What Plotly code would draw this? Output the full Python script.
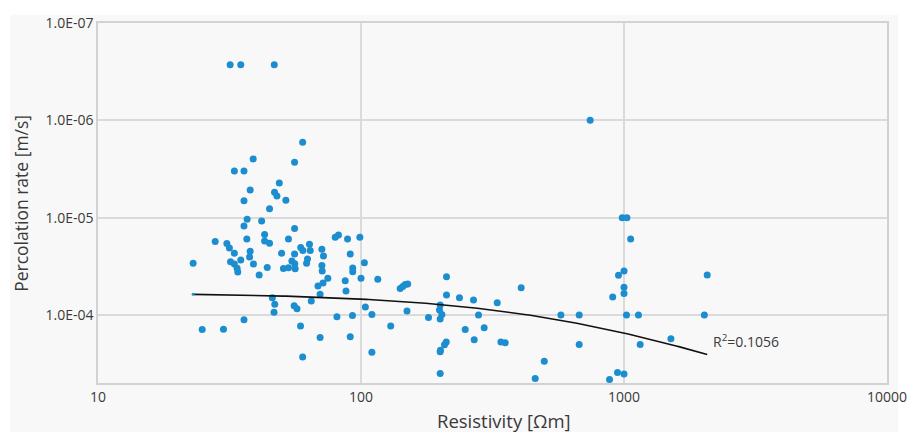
import numpy as np
import plotly.graph_objects as go

# Resistivity [Ωm] and percolation rate [m/s] for each measurement
RESISTIVITY = [
    31.8, 34.9, 46.8, 60.0, 38.9, 33.0, 35.9, 55.9, 48.9, 37.9,
    46.9, 47.9, 51.8, 35.9, 44.9, 36.9, 41.9, 35.9, 55.9, 43.0,
    27.9, 36.8, 43.0, 44.9, 53.0, 30.9, 31.6, 33.0, 37.9, 49.9,
    55.9, 59.0, 60.1, 63.7, 64.1, 37.7, 34.9, 31.9, 33.0, 39.0,
    23.0, 33.8, 34.0, 44.0, 41.0, 50.7, 53.0, 54.6, 56.0, 56.2,
    62.6, 62.1, 71.0, 72.0, 71.0, 71.2, 68.6, 71.7, 74.8, 79.8,
    82.1, 88.9, 99.0, 91.0, 93.0, 93.0, 103.0, 87.1, 100.0, 115.8,
    87.7, 69.9, 64.7, 55.7, 57.1, 46.0, 47.0, 46.7, 35.9, 24.9,
    30.0, 58.9, 69.9, 91.0, 60.0, 103.9, 81.0, 92.8, 110.0, 110.0,
    129.7, 140.9, 144.1, 147.2, 150.5, 149.6, 180.6, 211.4, 211.4, 236.8,
    267.8, 329.6, 406.5, 200.0, 198.8, 203.0, 200.0, 279.8, 249.0, 294.0,
    269.4, 340.4, 353.4, 210.9, 207.7, 200.5, 200.0, 200.0, 497.5, 459.6,
    575.5, 675.5, 675.5, 743.6, 984.5, 1026.0, 1060.0, 953.0, 1000.0, 1000.0,
    1000.0, 905.7, 1022.0, 1135.0, 1152.0, 1508.0, 944.8, 1000.0, 881.0, 2072.0,
    2021.0,
]
PERCOLATION = [
    2.69e-7, 2.69e-7, 2.69e-7, 1.68e-6, 2.49e-6, 3.31e-6, 3.31e-6, 2.69e-6, 4.40e-6, 5.19e-6,
    5.48e-6, 5.98e-6, 6.62e-6, 6.69e-6, 8.08e-6, 1.04e-5, 1.08e-5, 1.22e-5, 1.29e-5, 1.49e-5,
    1.76e-5, 1.66e-5, 1.74e-5, 1.83e-5, 1.66e-5, 1.84e-5, 2.05e-5, 2.32e-5, 2.22e-5, 2.32e-5,
    2.37e-5, 2.03e-5, 2.18e-5, 1.88e-5, 2.17e-5, 2.54e-5, 2.72e-5, 2.84e-5, 2.99e-5, 3.00e-5,
    2.94e-5, 3.32e-5, 3.62e-5, 3.25e-5, 3.89e-5, 3.33e-5, 3.27e-5, 2.79e-5, 2.98e-5, 3.36e-5,
    2.66e-5, 2.94e-5, 2.11e-5, 2.48e-5, 3.10e-5, 3.54e-5, 5.04e-5, 4.70e-5, 4.20e-5, 1.59e-5,
    1.51e-5, 1.66e-5, 1.59e-5, 2.37e-5, 3.29e-5, 3.59e-5, 2.90e-5, 4.45e-5, 4.20e-5, 4.30e-5,
    5.68e-5, 6.14e-5, 7.19e-5, 8.06e-5, 8.65e-5, 6.65e-5, 7.76e-5, 9.38e-5, 1.12e-4, 1.41e-4,
    1.40e-4, 1.30e-4, 1.70e-4, 1.67e-4, 2.70e-4, 8.29e-5, 1.04e-4, 1.01e-4, 9.90e-5, 2.41e-4,
    1.30e-4, 5.35e-5, 5.10e-5, 4.87e-5, 4.81e-5, 9.12e-5, 1.06e-4, 4.05e-5, 6.24e-5, 6.65e-5,
    7.03e-5, 7.49e-5, 5.25e-5, 7.91e-5, 8.90e-5, 9.86e-5, 1.10e-4, 1.00e-4, 1.41e-4, 1.35e-4,
    1.80e-4, 1.90e-4, 1.93e-4, 1.90e-4, 2.02e-4, 2.30e-4, 2.39e-4, 3.99e-4, 2.98e-4, 4.49e-4,
    1.00e-4, 1.00e-4, 2.01e-4, 1.00e-6, 1.00e-5, 1.00e-5, 1.66e-5, 3.91e-5, 3.54e-5, 5.20e-5,
    6.00e-5, 6.54e-5, 1.00e-4, 1.00e-4, 2.01e-4, 1.76e-4, 3.89e-4, 4.03e-4, 4.59e-4, 3.89e-5,
    1.00e-4,
]

# Linear trendline y = a + b*x and its coefficient of determination
TREND_INTERCEPT = 5.92e-5
TREND_SLOPE = 9.43e-8
R_SQUARED = 0.1056

X_TICKS = [10, 100, 1000, 10000]
X_TICK_TEXT = ["10", "100", "1000", "10000"]
Y_TICKS = [1e-7, 1e-6, 1e-5, 1e-4]
Y_TICK_TEXT = ["1.0E-07", "1.0E-06", "1.0E-05", "1.0E-04"]

FONT = "Open Sans"
TEXT_COLOR = "#3a3a3a"
PANEL = "#f8f8f8"
GRID = "#dadada"
DOT = "#1c8ed0"

trend_x = np.geomspace(min(RESISTIVITY), max(RESISTIVITY), 200)
trend_y = TREND_INTERCEPT + TREND_SLOPE * trend_x

fig = go.Figure()
fig.add_trace(go.Scatter(
    x=RESISTIVITY, y=PERCOLATION, mode="markers",
    marker=dict(size=7, color=DOT, line=dict(width=0)),
    showlegend=False, hoverinfo="x+y",
))
fig.add_trace(go.Scatter(
    x=trend_x, y=trend_y, mode="lines",
    line=dict(color="#111111", width=1.6),
    showlegend=False, hoverinfo="skip",
))
fig.add_trace(go.Scatter(
    x=trend_x[:1], y=trend_y[:1], mode="markers",
    marker=dict(size=3, color=DOT),
    showlegend=False, hoverinfo="skip",
))

axis_common = dict(
    type="log", automargin=False, ticklabeloverflow="allow",
    showgrid=True, gridcolor=GRID, gridwidth=1.5,
    showline=True, linecolor="#d2d2d2", linewidth=1.5, mirror=True,
    zeroline=False, ticks="",
    tickfont=dict(family=FONT, size=14, color=TEXT_COLOR),
)

fig.update_layout(
    width=907, height=432,
    margin=dict(l=98, r=20, t=23, b=49),
    paper_bgcolor="white",
    plot_bgcolor=PANEL,
    xaxis=dict(axis_common, range=[1, 4], tickvals=X_TICKS, ticktext=X_TICK_TEXT),
    yaxis=dict(axis_common, range=[np.log10(5e-4), -7], tickvals=Y_TICKS, ticktext=Y_TICK_TEXT),
    shapes=[dict(
        type="rect", xref="paper", yref="paper", layer="below",
        x0=-0.1115, x1=1.0142, y0=-0.25, y1=1.0231,
        fillcolor=PANEL, line=dict(width=0),
    )],
    annotations=[
        dict(text="Resistivity [Ωm]", xref="paper", yref="paper",
             x=0.514, y=-0.104, xanchor="center", yanchor="middle", showarrow=False,
             font=dict(family=FONT, size=18.5, color=TEXT_COLOR)),
        dict(text="Percolation rate [m/s]", xref="paper", yref="paper",
             x=-0.097, y=0.499, xanchor="center", yanchor="middle", textangle=-90,
             showarrow=False, font=dict(family=FONT, size=17.5, color=TEXT_COLOR)),
        dict(text=f"R<sup>2</sup>={R_SQUARED}", xref="paper", yref="paper",
             x=0.7768, y=0.1154, xanchor="left", yanchor="middle", showarrow=False,
             font=dict(family=FONT, size=14, color=TEXT_COLOR)),
    ],
)

fig.write_html("out.html")
